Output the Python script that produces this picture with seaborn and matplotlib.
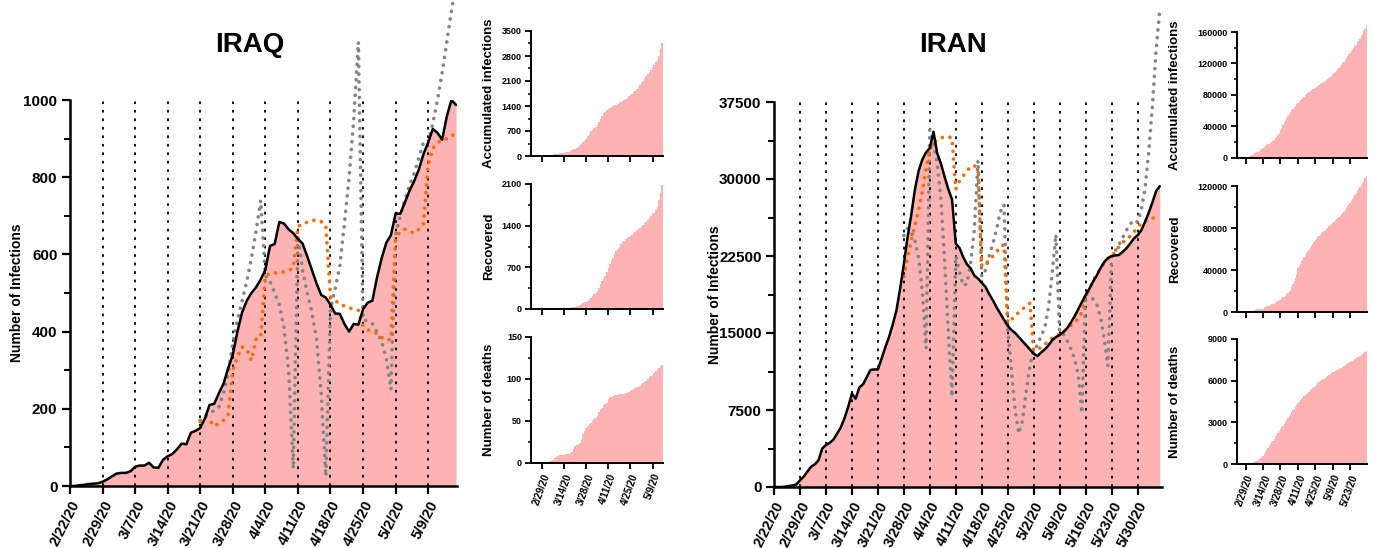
import numpy as np
import pandas as pd
import matplotlib
matplotlib.use("Agg")
import matplotlib.pyplot as plt
import seaborn as sns
from matplotlib.ticker import MultipleLocator, FixedLocator

sns.set_theme(style="ticks")
plt.rcParams["font.family"] = ["Liberation Sans", "DejaVu Sans"]
plt.rcParams["font.weight"] = "bold"
plt.rcParams["axes.labelweight"] = "bold"
for key in ("text.color", "axes.labelcolor", "xtick.color", "ytick.color", "axes.edgecolor"):
    plt.rcParams[key] = "black"

START = pd.Timestamp("2020-02-22")

# ---------------- IRAQ (daily, 2/22/20 -> 5/15/20) ----------------
iraq_active = [
    0, 0, 2, 3, 5, 6, 7, 11, 17, 25,
    32, 34, 34, 38, 50, 53, 53, 60, 48, 47,
    68, 77, 83, 95, 110, 108, 138, 143, 150, 175,
    210, 213, 240, 265, 305, 340, 400, 450, 480, 500,
    515, 535, 560, 622, 627, 684, 680, 665, 655, 640,
    628, 595, 560, 525, 495, 488, 470, 447, 446, 420,
    400, 420, 418, 458, 475, 480, 540, 590, 630, 650,
    706, 705, 735, 765, 790, 820, 860, 890, 925, 915,
    897, 957, 1000, 987,
]
iraq_grey_start = "3/21/20"
iraq_grey = [
    170, 180, 190, 195, 205, 240, 290,
    370, 430, 480, 530, 590, 660, 740,
    545, 530, 500, 470, 410, 300, 45,
    650, 560, 500, 450, 380, 240, 25,
    460, 510, 570, 680, 800, 950, 1150,
    430, 428, 420, 400, 375, 330, 250,
    650, 700, 740, 780, 810, 850, 890,
    890, 940, 1000, 1070, 1150, 1230, 1300,
]
iraq_orange_start = "3/21/20"
iraq_orange = [
    167, 180, 170, 155, 162, 170, 185,
    300, 335, 360, 355, 325, 380, 385,
    545, 550, 552, 553, 555, 558, 565,
    672, 680, 683, 688, 689, 685, 675,
    490, 480, 472, 466, 462, 458, 455,
    415, 405, 400, 395, 385, 378, 380,
    640, 660, 665, 660, 655, 665, 680,
    830, 875, 890, 895, 900, 905, 918,
]
iraq_cases = [
    0, 0, 1, 1, 5, 6, 7, 8, 13, 19,
    26, 32, 35, 35, 40, 54, 60, 60, 71, 71,
    80, 93, 100, 110, 124, 154, 164, 192, 208, 225,
    266, 316, 346, 382, 430, 470, 547, 630, 694, 728,
    772, 820, 878, 961, 1031, 1122, 1195, 1232, 1279, 1318,
    1352, 1378, 1400, 1415, 1434, 1456, 1490, 1520, 1545, 1570,
    1600, 1630, 1670, 1710, 1736, 1780, 1830, 1880, 1923, 1980,
    2040, 2100, 2175, 2240, 2300, 2360, 2420, 2490, 2548, 2620,
    2700, 2800, 3000, 3170,
]
iraq_recovered = [
    0, 0, 0, 0, 0, 0, 0, 0, 0, 0,
    0, 0, 0, 1, 1, 2, 2, 3, 3, 5,
    8, 10, 12, 15, 20, 25, 30, 35, 40, 45,
    55, 65, 80, 95, 110, 125, 140, 160, 190, 220,
    250, 270, 300, 350, 420, 470, 500, 560, 620, 690,
    750, 800, 860, 920, 980, 1010, 1050, 1090, 1120, 1140,
    1170, 1190, 1210, 1230, 1250, 1270, 1300, 1320, 1340, 1360,
    1380, 1410, 1440, 1470, 1500, 1530, 1560, 1590, 1620, 1660,
    1720, 1830, 1950, 2080,
]
iraq_deaths = [
    0, 0, 0, 0, 0, 0, 0, 0, 0, 0,
    0, 1, 2, 2, 4, 6, 7, 8, 9, 10,
    10, 10, 11, 11, 11, 12, 13, 17, 20, 22,
    23, 24, 27, 35, 38, 42, 44, 46, 48, 50,
    52, 54, 56, 61, 64, 66, 69, 70, 72, 76,
    78, 79, 80, 81, 81, 81, 82, 82, 82, 82,
    83, 83, 85, 86, 87, 88, 89, 90, 91, 92,
    94, 95, 96, 98, 100, 102, 103, 105, 107, 110,
    112, 113, 115, 117,
]
iraq_main_ticks = ["2/22/20", "2/29/20", "3/7/20", "3/14/20", "3/21/20", "3/28/20",
                   "4/4/20", "4/11/20", "4/18/20", "4/25/20", "5/2/20", "5/9/20"]
iraq_small_ticks = ["2/29/20", "3/14/20", "3/28/20", "4/11/20", "4/25/20", "5/9/20"]

# ---------------- IRAN (daily, 2/22/20 -> 6/5/20) ----------------
iran_active = [
    0, 0, 0, 30, 100, 150, 250, 650, 1000, 1500,
    1980, 2200, 2600, 3750, 4100, 4300, 4600, 5200, 5800, 6700,
    7800, 9100, 8600, 9700, 10000, 10700, 11400, 11450, 11450, 12500,
    13600, 14600, 15800, 17200, 19300, 21700, 24300, 26500, 29000, 30800,
    31900, 32600, 33000, 34600, 32500, 31500, 30200, 29000, 28000, 23700,
    23300, 22400, 21700, 21300, 20600, 20300, 19900, 19500, 18800, 18200,
    17500, 16900, 16300, 15700, 15300, 15000, 14600, 14200, 13800, 13400,
    13000, 12750, 13100, 13400, 13800, 14300, 14600, 14800, 15100, 15450,
    16000, 16600, 17300, 18000, 18700, 19300, 20000, 20600, 21300, 21900,
    22300, 22500, 22550, 22600, 22900, 23250, 23700, 24200, 24500, 25000,
    25800, 26700, 27700, 28800, 29300,
]
iran_grey_start = "3/28/20"
iran_grey = [
    24500, 25200, 24800, 24000, 22300, 19000, 13500,
    34800, 33500, 31500, 28000, 22000, 15000, 8800,
    22500, 21000, 19600, 19800, 21800, 25000, 31800,
    20500, 21100, 22500, 23700, 25100, 26800, 27500,
    15500, 11500, 7500, 5200, 6500, 9300, 11800,
    13300, 13800, 14700, 15500, 17500, 20800, 24600,
    15000, 14900, 14300, 13500, 12500, 11000, 7200,
    18800, 18600, 18300, 17800, 16600, 14500, 11800,
    22400, 23000, 23600, 24300, 25000, 25600, 26000,
    25800, 27000, 29000, 32500, 37000, 42500, 46500,
]
iran_orange_start = "3/28/20"
iran_orange = [
    20500, 22300, 24000, 25500, 27000, 28800, 31000,
    32800, 33500, 33800, 34000, 34100, 34100, 34000,
    29000, 29800, 30300, 30800, 31200, 31300, 31000,
    21500, 21800, 22000, 22500, 22900, 23400, 23600,
    16000, 16300, 16700, 17000, 17300, 17700, 17900,
    13300, 13400, 13600, 13900, 14200, 14500, 14700,
    14900, 15100, 15400, 15700, 16000, 16400, 17000,
    18600, 19200, 20100, 20700, 21300, 21800, 22200,
    22500, 22900, 23400, 23800, 24200, 24400, 24800,
    25300, 25700, 25900, 26100, 26200, 26200,
]
iran_cases = [
    28, 43, 61, 95, 139, 245, 388, 593,
    978, 1501, 2336, 2922, 3513, 4747, 5823, 6566, 7161, 8042,
    9000, 10075, 11364, 12729, 13938, 14991, 16169, 17361, 18407, 19644,
    20610, 21638, 23049, 24811, 27017, 29406, 32332, 35408, 38309, 41495, 44605,
    47593, 50468, 53183, 55743, 58226, 60500, 62589, 64586, 66220, 68192,
    70029, 71686, 73303, 74877, 76389, 77995, 79494, 80868, 82211, 83505,
    84802, 85996, 87026, 88194, 89328, 90481, 91472, 92584, 93657, 94640,
    95646, 96448, 97424, 98647, 99970, 101650, 103135, 104691, 106220, 107603,
    109286, 110767, 112725, 114533, 116635, 118392, 120198, 122492, 124603, 126949,
    129341, 131652, 133521, 135701, 137724, 139511, 141591, 143849, 146668, 148950,
    151466, 154445, 157562, 160696, 164270, 167156,
]
iran_recovered = [
    0, 0, 0, 0, 49, 49, 73, 123,
    175, 291, 291, 552, 739, 913, 1669, 2134, 2394, 2731,
    2959, 2959, 2959, 2959, 4590, 4590, 5389, 5389, 5710, 6745,
    7635, 7931, 7931, 8913, 9625, 10457, 11133, 11679, 12391, 13911, 14656,
    15473, 16711, 17935, 19736, 19736, 24236, 27039, 29812, 32309, 35465,
    41947, 43894, 45983, 48129, 49933, 52229, 54064, 55987, 57023, 59273,
    60965, 63113, 64843, 66599, 68193, 69657, 71166, 72439, 73791, 75103,
    76318, 77350, 78422, 79379, 80475, 81587, 82744, 83837, 85064, 86143,
    87422, 88357, 89428, 90539, 91836, 93147, 94464, 95661, 97173, 98808,
    100564, 102276, 103798, 105801, 107713, 109437, 111176, 112988, 115337, 116827,
    118848, 121004, 123077, 125206, 127485, 129741,
]
iran_deaths = [
    5, 8, 12, 16, 19, 26, 34, 43,
    54, 66, 77, 92, 107, 124, 145, 194, 237, 291,
    354, 429, 514, 611, 724, 853, 988, 1135, 1284, 1433,
    1556, 1685, 1812, 1934, 2077, 2234, 2378, 2517, 2640, 2757, 2898,
    3036, 3160, 3294, 3452, 3603, 3739, 3872, 3993, 4110, 4232,
    4357, 4474, 4585, 4683, 4777, 4869, 4958, 5031, 5118, 5209,
    5297, 5391, 5481, 5574, 5650, 5710, 5806, 5877, 5957, 6028,
    6091, 6156, 6203, 6277, 6340, 6418, 6486, 6541, 6589, 6640,
    6685, 6733, 6783, 6854, 6902, 6937, 6988, 7057, 7119, 7183,
    7249, 7300, 7359, 7417, 7451, 7508, 7564, 7627, 7677, 7734,
    7797, 7878, 7942, 8012, 8071, 8134,
]
iran_main_ticks = ["2/22/20", "2/29/20", "3/7/20", "3/14/20", "3/21/20", "3/28/20",
                   "4/4/20", "4/11/20", "4/18/20", "4/25/20", "5/2/20", "5/9/20",
                   "5/16/20", "5/23/20", "5/30/20"]
iran_small_ticks = ["2/29/20", "3/14/20", "3/28/20", "4/11/20", "4/25/20", "5/9/20", "5/23/20"]

PINK = "#fdb3b3"
GREY = "#7f8686"
ORANGE = "#ff6a00"
W, H = 1375, 548


def day_of(label):
    return (pd.to_datetime(label, format="%m/%d/%y") - START).days


def frame(values, start_label="2/22/20"):
    first = day_of(start_label)
    return pd.DataFrame({"day": np.arange(first, first + len(values)), "value": values})


def px_axes(left, top, right, bottom):
    return fig.add_axes([left / W, 1 - bottom / H, (right - left) / W, (bottom - top) / H])


def style_spines(ax, lw):
    sns.despine(ax=ax)
    for s in ("left", "bottom"):
        ax.spines[s].set_linewidth(lw)
        ax.spines[s].set_color("black")


def main_panel(ax, active, grey, grey_start, orange, orange_start, ticks,
               xmax, ymax, ymajor, yminor, label_x):
    act = frame(active)
    ax.fill_between(act["day"], act["value"], 0, color=PINK, lw=0, zorder=1)
    for t in ticks[1:]:
        ax.axvline(day_of(t), color="black", lw=1.3, ls=(0, (1.5, 3.2)), zorder=2)
    dot = dict(lw=2.6, ls=(0, (0.05, 2.1)), dash_capstyle="round",
               clip_on=False, estimator=None, legend=False)
    sns.lineplot(data=frame(grey, grey_start), x="day", y="value", ax=ax,
                 color=GREY, zorder=3, **dot)
    sns.lineplot(data=frame(orange, orange_start), x="day", y="value", ax=ax,
                 color=ORANGE, zorder=4, **dot)
    sns.lineplot(data=act, x="day", y="value", ax=ax, color="black", lw=1.8,
                 zorder=5, estimator=None, legend=False)
    ax.set_xlim(0, xmax)
    ax.set_ylim(0, ymax)
    ax.xaxis.set_major_locator(FixedLocator([day_of(t) for t in ticks]))
    ax.set_xticklabels(ticks, rotation=63, ha="right", rotation_mode="anchor",
                       fontsize=10.5, fontweight="bold")
    ax.yaxis.set_major_locator(MultipleLocator(ymajor))
    ax.yaxis.set_minor_locator(MultipleLocator(yminor))
    for lab in ax.get_yticklabels():
        lab.set_fontsize(11)
        lab.set_fontweight("bold")
    ax.tick_params(axis="both", which="major", length=6, width=1.6, pad=3, direction="out")
    ax.tick_params(axis="y", which="minor", length=4, width=1.4, direction="out")
    ax.set_xlabel("")
    ax.set_ylabel("Number of Infections", fontsize=10, fontweight="bold")
    ax.yaxis.set_label_coords(label_x, 0.5)
    style_spines(ax, 1.8)


def small_panel(ax, values, ticks, xmax, ymax, ymajor, yminor, ylabel, label_x, show_labels):
    d = frame(values)
    ax.bar(d["day"], d["value"], width=1.0, color=PINK, lw=0, clip_on=False, zorder=1)
    ax.set_xlim(0, xmax)
    ax.set_ylim(0, ymax)
    ax.xaxis.set_major_locator(FixedLocator([day_of(t) for t in ticks]))
    if show_labels:
        ax.set_xticklabels(ticks, rotation=70, ha="right", rotation_mode="anchor",
                           fontsize=7, fontweight="bold")
    else:
        ax.set_xticklabels([])
    ax.yaxis.set_major_locator(MultipleLocator(ymajor))
    ax.yaxis.set_minor_locator(MultipleLocator(yminor))
    for lab in ax.get_yticklabels():
        lab.set_fontsize(6.5)
        lab.set_fontweight("bold")
    ax.tick_params(axis="both", which="major", length=4.5, width=1.3, pad=2, direction="out")
    ax.tick_params(axis="y", which="minor", length=2.5, width=1.1, direction="out")
    ax.set_xlabel("")
    ax.set_ylabel(ylabel, fontsize=9.5, fontweight="bold")
    ax.yaxis.set_label_coords(label_x, 0.5)
    style_spines(ax, 1.4)


fig = plt.figure(figsize=(W / 100, H / 100), dpi=100)

# IRAQ
ax_iq = px_axes(70, 100, 457, 486)
main_panel(ax_iq, iraq_active, iraq_grey, iraq_grey_start, iraq_orange, iraq_orange_start,
           iraq_main_ticks, 83.2, 1000, 200, 100, -0.12)
fig.text(250 / W, 1 - 45 / H, "IRAQ", fontsize=20, fontweight="bold", ha="center", va="center")

iq_top = px_axes(531, 31, 663, 156)
small_panel(iq_top, iraq_cases, iraq_small_ticks, 83.6, 3500, 700, 350,
            "Accumulated infections", -0.27, False)
iq_mid = px_axes(531, 184, 663, 309)
small_panel(iq_mid, iraq_recovered, iraq_small_ticks, 83.6, 2100, 700, 350,
            "Recovered", -0.27, False)
iq_bot = px_axes(531, 337, 663, 463)
small_panel(iq_bot, iraq_deaths, iraq_small_ticks, 83.6, 150, 50, 25,
            "Number of deaths", -0.27, True)

# IRAN
ax_ir = px_axes(774, 102, 1162, 487)
main_panel(ax_ir, iran_active, iran_grey, iran_grey_start, iran_orange, iran_orange_start,
           iran_main_ticks, 104.6, 37500, 7500, 3750, -0.135)
fig.text(953 / W, 1 - 45 / H, "IRAN", fontsize=20, fontweight="bold", ha="center", va="center")

ir_top = px_axes(1237, 32, 1367, 158)
small_panel(ir_top, iran_cases, iran_small_ticks, 104.6, 160000, 40000, 20000,
            "Accumulated infections", -0.43, False)
ir_mid = px_axes(1237, 186, 1367, 312)
small_panel(ir_mid, iran_recovered, iran_small_ticks, 104.6, 120000, 40000, 20000,
            "Recovered", -0.43, False)
ir_bot = px_axes(1237, 339, 1367, 464)
small_panel(ir_bot, iran_deaths, iran_small_ticks, 104.6, 9000, 3000, 1500,
            "Number of deaths", -0.43, True)

fig.savefig("out.png", dpi=100, facecolor="white")
